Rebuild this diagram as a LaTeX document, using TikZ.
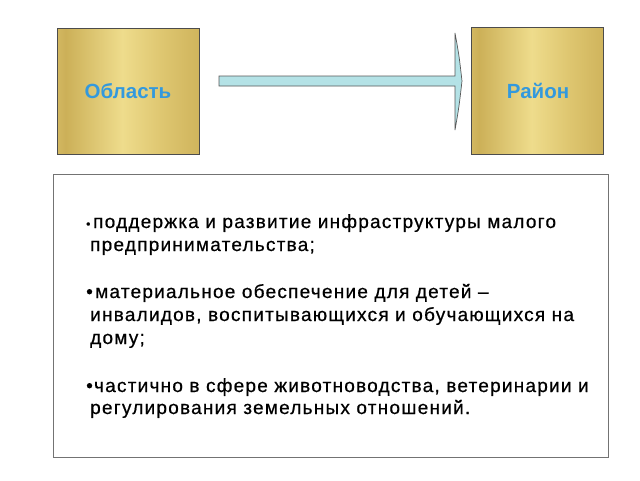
\documentclass[tikz,border=0pt]{standalone}
\usepackage{fontspec}
\setmainfont{Liberation Sans}
\newfontfamily\bodyfont[LetterSpace=6.5,FakeBold=0.6]{Liberation Sans}
\definecolor{golddark}{RGB}{204,176,88}
\definecolor{goldlight}{RGB}{238,220,140}
\definecolor{goldmid}{RGB}{222,198,112}
\definecolor{titleblue}{RGB}{51,153,221}
\definecolor{arrowfill}{RGB}{180,226,230}
\pgfdeclarehorizontalshading{goldstripes}{100bp}{%
  color(0bp)=(goldmid); color(12bp)=(goldlight); color(28bp)=(golddark);
  color(48bp)=(goldlight); color(62bp)=(goldmid); color(78bp)=(golddark);
  color(96bp)=(goldlight); color(100bp)=(goldlight)}
\tikzset{
  goldbox/.style={draw=black!70, line width=0.8pt, shading=goldstripes},
  titletext/.style={font=\bfseries\fontsize{20.5}{22}\selectfont, text=titleblue},
  bodyline/.style={anchor=base west, inner sep=0pt, font=\bodyfont\fontsize{19}{22}\selectfont},
}
\begin{document}
\begin{tikzpicture}[x=1pt,y=-1pt]
\useasboundingbox (0,0) rectangle (640,480);
\fill[white] (0,0) rectangle (640,480);
% gold boxes
\shade[goldbox] (57,28) rectangle (199,154);
\node[titletext] (obl) at (128,91) {Область};
\shade[goldbox] (471,27) rectangle (603,154);
\node[titletext] (ray) at (538,91) {Район};
% arrow
\draw[fill=arrowfill, draw=black!65, line width=0.7pt]
  (219,76) -- (455,76) -- (455,33) .. controls (459,55) .. (462,81)
  .. controls (459,107) .. (455,130) -- (455,86) -- (219,86) -- cycle;
% bottom box
\draw[draw=black!55, line width=0.8pt] (53,174) rectangle (608,457);
\node[bodyline] (b1) at (86,228) {\fontsize{12}{12}\selectfont•};
\node[bodyline] (l1) at (93,228) {поддержка и развитие инфраструктуры малого};
\node[bodyline] (l2) at (90,251) {предпринимательства;};
\node[bodyline] (b2) at (86,298) {•};
\node[bodyline] (l3) at (95,298) {материальное обеспечение для детей –};
\node[bodyline] (l4) at (90,321) {инвалидов, воспитывающихся и обучающихся на};
\node[bodyline] (l5) at (90,344) {дому;};
\node[bodyline] (l6) at (86,392) {•частично в сфере животноводства, ветеринарии и};
\node[bodyline] (l7) at (90,414) {регулирования земельных отношений.};
\end{tikzpicture}
\end{document}
